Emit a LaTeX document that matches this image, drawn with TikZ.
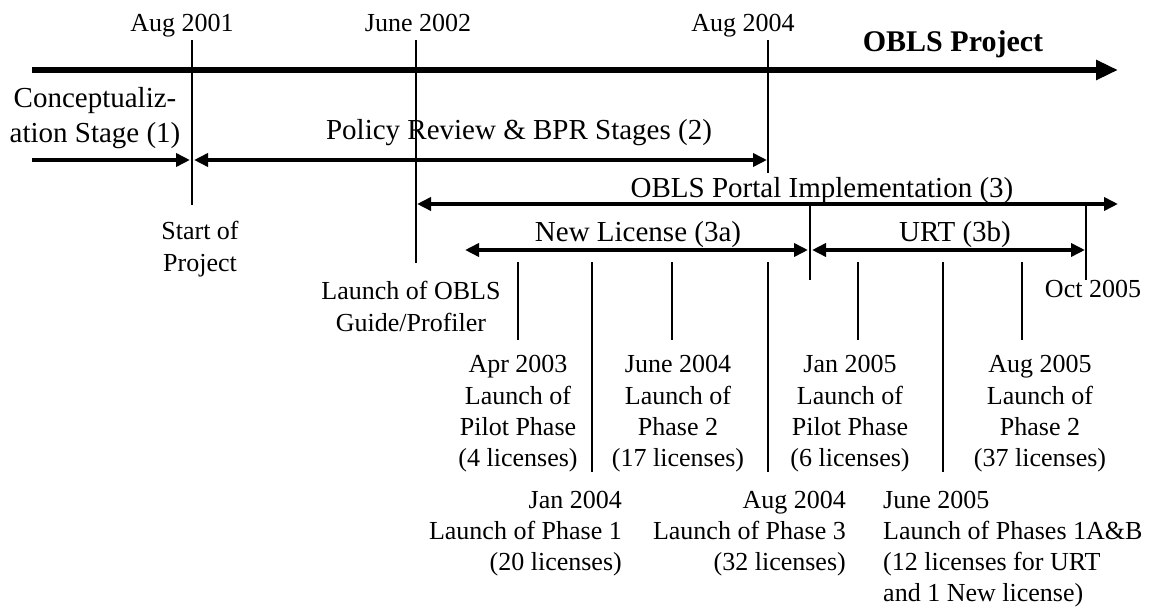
\documentclass[tikz,border=0pt]{standalone}
\usepackage{fontspec}
\setmainfont{Liberation Serif}
\usetikzlibrary{arrows.meta}
\newcommand\stk[2]{\begin{tabular}[t]{@{}#1@{}}#2\end{tabular}}
\begin{document}
\begin{tikzpicture}[x=1pt,y=-1pt,
  sm/.style={font=\fontsize{26}{31.3}\selectfont, inner sep=0pt, anchor=base},
  bg/.style={font=\fontsize{29}{35}\selectfont, inner sep=0pt, anchor=base},
  vline/.style={line width=1.8pt},
  axisline/.style={line width=6pt, -{Triangle[length=22pt,width=19pt]}},
  span/.style={line width=3.6pt},
  tipR/.style={-{Triangle[length=14pt,width=13pt]}},
  tipL/.style={{Triangle[length=14pt,width=13pt]}-},
  tipLR/.style={{Triangle[length=14pt,width=13pt]}-{Triangle[length=14pt,width=13pt]}},
]
\useasboundingbox (0,0) rectangle (1151,609);

% main axis
\coordinate (ax0) at (32,70);
\coordinate (ax1) at (1118,70);
\draw[axisline] (ax0) -- (ax1);

% date labels on top
\node[sm] (t2001) at (182,32) {Aug 2001};
\node[sm] (t2002) at (418,32) {June 2002};
\node[sm] (t2004) at (743,32) {Aug 2004};
\node[font=\fontsize{30}{36}\selectfont\bfseries, inner sep=0pt, anchor=base] (title) at (953,52) {OBLS Project};

% long vertical markers
\coordinate (v1a) at (192,40);  \coordinate (v1b) at (192,205);
\coordinate (v2a) at (416,40);  \coordinate (v2b) at (416,263);
\coordinate (v3a) at (768,40);  \coordinate (v3b) at (768,173);
\draw[vline] (v1a) -- (v1b);
\draw[vline] (v2a) -- (v2b);
\draw[vline] (v3a) -- (v3b);

% stage labels
\node[bg] (s1) at (95,108) {\stk{c}{Conceptualiz-\\ation Stage (1)}};
\node[bg] (s2) at (519,140) {Policy Review \& BPR Stages (2)};
\node[bg] (s3) at (822,198) {OBLS Portal Implementation (3)};
\node[bg] (s3a) at (638,242) {New License (3a)};
\node[bg] (s3b) at (955,242) {URT (3b)};

% stage arrows
\coordinate (a1a) at (32,160);  \coordinate (a1b) at (190,160);
\coordinate (a2a) at (194,160); \coordinate (a2b) at (767,160);
\coordinate (a3a) at (417,204); \coordinate (a3b) at (1118,204);
\coordinate (a4a) at (465,250); \coordinate (a4b) at (808,250);
\coordinate (a5a) at (812,250); \coordinate (a5b) at (1085,250);
\draw[span,tipR] (a1a) -- (a1b);
\draw[span,tipLR] (a2a) -- (a2b);
\draw[span,tipLR] (a3a) -- (a3b);
\draw[span,tipLR] (a4a) -- (a4b);
\draw[span,tipLR] (a5a) -- (a5b);

% short vertical markers
\coordinate (b1a) at (810,205);  \coordinate (b1b) at (810,280);
\coordinate (b2a) at (1086,206); \coordinate (b2b) at (1086,280);
\draw[vline] (b1a) -- (b1b);
\draw[vline] (b2a) -- (b2b);

% ticks
\foreach \n/\x/\yb in {k1/518/340, k2/592/472, k3/672/340, k4/768/472, k5/858/340, k6/943/472, k7/1022/340}{
  \coordinate (\n a) at (\x,262);
  \coordinate (\n b) at (\x,\yb);
  \draw[vline] (\n a) -- (\n b);
}

% lower labels
\node[sm] (start) at (200,240) {\stk{c}{Start of\\Project}};
\node[sm] (guide) at (411,300) {\stk{c}{Launch of OBLS\\Guide/Profiler}};
\node[sm] (oct) at (1093,298) {Oct 2005};

\node[sm] (apr03) at (518,373) {\stk{c}{Apr 2003\\Launch of\\Pilot Phase\\(4 licenses)}};
\node[sm] (jun04) at (678,373) {\stk{c}{June 2004\\Launch of\\Phase 2\\(17 licenses)}};
\node[sm] (jan05) at (850,373) {\stk{c}{Jan 2005\\Launch of\\Pilot Phase\\(6 licenses)}};
\node[sm] (aug05) at (1040,373) {\stk{c}{Aug 2005\\Launch of\\Phase 2\\(37 licenses)}};

\node[sm, anchor=base east] (jan04) at (622,508) {\stk{r}{Jan 2004\\Launch of Phase 1\\(20 licenses)}};
\node[sm, anchor=base east] (aug04) at (846,508) {\stk{r}{Aug 2004\\Launch of Phase 3\\(32 licenses)}};
\node[sm, anchor=base west] (jun05) at (883,508) {\stk{l}{June 2005\\Launch of Phases 1A\&B\\(12 licenses for URT\\and 1 New license)}};
\end{tikzpicture}
\end{document}
